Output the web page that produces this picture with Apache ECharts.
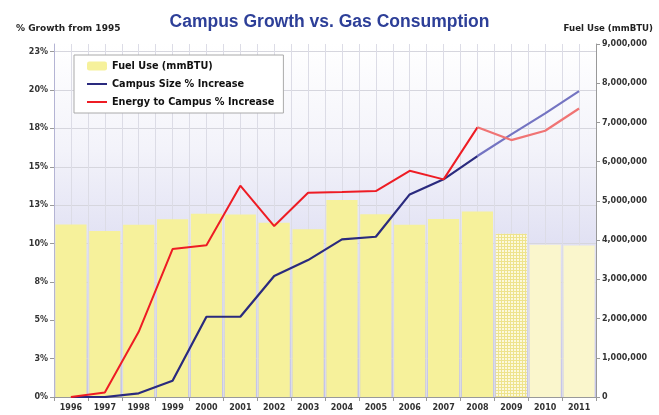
<!DOCTYPE html>
<html>
<head>
<meta charset="utf-8">
<script src="https://cdn.jsdelivr.net/npm/echarts@6/dist/echarts.min.js"></script>
<style>
html,body{margin:0;padding:0;background:#fff;}
#chart{width:659px;height:415px;}
</style>
</head>
<body>
<div id="chart"></div>
<script>
var years = ['1996','1997','1998','1999','2000','2001','2002','2003','2004','2005','2006','2007','2008','2009','2010','2011'];
// mmBTU
var fuelUse = [4400000,4230000,4390000,4530000,4670000,4650000,4440000,4280000,5020000,4660000,4390000,4540000,4730000,4160000,3880000,3860000];
// % growth from 1995
var campusSize = [0,0,0.24,1.06,5.23,5.23,7.88,8.92,10.27,10.44,13.2,14.18,15.7,17.11,18.48,19.93];
var energyToCampus = [0,0.3,4.25,9.64,9.88,13.77,11.14,13.31,13.36,13.42,14.74,14.18,17.57,16.74,17.35,18.8];
var pctLabels = ['0%','3%','5%','8%','10%','13%','15%','18%','20%','23%'];
var fadeFrom = 12; // lines get lighter after 2008

var labelFont = {fontFamily:'DejaVu Sans', fontWeight:'bold', fontSize:8, color:'#333'};

// little grid pattern for the 2009 bar
function gridPattern(){
	var c = document.createElement('canvas');
	c.width = 3; c.height = 3;
	var g = c.getContext('2d');
	g.fillStyle = '#fcf9dc';
	g.fillRect(0,0,3,3);
	g.fillStyle = '#eee38c';
	g.fillRect(0,0,3,1);
	g.fillRect(0,0,1,3);
	return c;
}
var pat = {image: gridPattern(), repeat: 'repeat'};

var barData = fuelUse.map(function(v,i){
	var col = '#f6f19b';
	if(i == 13) col = pat;
	if(i > 13) col = '#faf6cc';
	return {value: v, itemStyle: {color: col}};
});
function solidPart(arr){ return arr.map(function(v,i){ return i <= fadeFrom ? v : null; }); }
function fadePart(arr){ return arr.map(function(v,i){ return i >= fadeFrom ? v : null; }); }

var noDot = {color:'rgba(0,0,0,0)', borderWidth:0};

var chart = echarts.init(document.getElementById('chart'));
var option = {
	animation: false,
	backgroundColor: '#fff',
	title: [{
		text: 'Campus Growth vs. Gas Consumption',
		left: 'center', top: 8,
		textStyle: {fontFamily:'Liberation Sans', fontWeight:'bold', fontSize:17.5, color:'#2d3f98'}
	},{
		text: '% Growth from 1995', left: 11, top: 19,
		textStyle: {fontFamily:'DejaVu Sans', fontWeight:'bold', fontSize:9, color:'#222'}
	},{
		text: 'Fuel Use (mmBTU)', right: 1, top: 19,
		textStyle: {fontFamily:'DejaVu Sans', fontWeight:'bold', fontSize:8.6, color:'#222'}
	}],
	legend: {
		orient: 'vertical', left: 74, top: 55,
		data: [
			{name:'Fuel Use (mmBTU)'},
			{name:'Campus Size % Increase', itemStyle: noDot},
			{name:'Energy to Campus % Increase', itemStyle: noDot}
		],
		backgroundColor: '#fff', borderColor: '#aaa', borderWidth: 1,
		padding: [6, 9, 6, 12], itemGap: 8, itemWidth: 20, itemHeight: 9,
		textStyle: {fontFamily:'DejaVu Sans', fontWeight:'bold', fontSize:9.7, color:'#111'}
	},
	grid: {
		left: 54, right: 63, top: 44, bottom: 18, show: true, borderWidth: 0,
		backgroundColor: new echarts.graphic.LinearGradient(0,0,0,1,[
			{offset:0, color:'#ffffff'},
			{offset:0.3, color:'#f3f3fa'},
			{offset:1, color:'#c3c3e8'}
		])
	},
	xAxis: [{
		type: 'category', data: years,
		axisLine: {lineStyle:{color:'#999'}},
		axisTick: {show:true, length:4, lineStyle:{color:'#999'}},
		axisLabel: Object.assign({margin:7}, labelFont),
		splitLine: {show:false}
	},{
		// half-category vertical grid
		type: 'value', min: 0, max: 32, interval: 1, position: 'top',
		axisLine:{show:false}, axisTick:{show:false}, axisLabel:{show:false},
		splitLine: {show:true, lineStyle:{color:'#dcdce6', width:1}}
	}],
	yAxis: [{
		type: 'value', min: 0, max: 23, interval: 2.5,
		axisLine: {show:true, lineStyle:{color:'#b4b4d4'}},
		axisTick: {show:true, length:4, lineStyle:{color:'#999'}},
		axisLabel: Object.assign({
			showMaxLabel: false, margin: 6,
			formatter: function(v){ return pctLabels[Math.round(v/2.5)] || ''; }
		}, labelFont),
		splitLine: {show:true, showMaxLine:false, lineStyle:{color:'#d6d6de'}}
	},{
		type: 'value', min: 0, max: 9000000, interval: 1000000, position: 'right',
		axisLine: {show:true, lineStyle:{color:'#999'}},
		axisTick: {show:true, length:4, lineStyle:{color:'#999'}},
		axisLabel: Object.assign({
			margin: 6,
			formatter: function(v){ return v.toLocaleString('en-US'); }
		}, labelFont),
		splitLine: {show:false}
	}],
	series: [{
		name: 'Fuel Use (mmBTU)', type: 'bar', yAxisIndex: 1,
		barCategoryGap: '8%', itemStyle: {color:'#f6f19b'},
		data: barData
	},{
		name: 'Campus Size % Increase', type: 'line', symbol: 'none',
		lineStyle: {color:'#2a2a7e', width:2.2}, itemStyle: {color:'#2a2a7e'},
		data: solidPart(campusSize)
	},{
		name: 'Energy to Campus % Increase', type: 'line', symbol: 'none',
		lineStyle: {color:'#ee1c24', width:2}, itemStyle: {color:'#ee1c24'},
		data: solidPart(energyToCampus)
	},{
		name: 'campus-proj', type: 'line', symbol: 'none',
		lineStyle: {color:'#7474c2', width:2.2},
		data: fadePart(campusSize)
	},{
		name: 'energy-proj', type: 'line', symbol: 'none',
		lineStyle: {color:'#f07474', width:2.2},
		data: fadePart(energyToCampus)
	}]
};
chart.setOption(option);
</script>
</body>
</html>
